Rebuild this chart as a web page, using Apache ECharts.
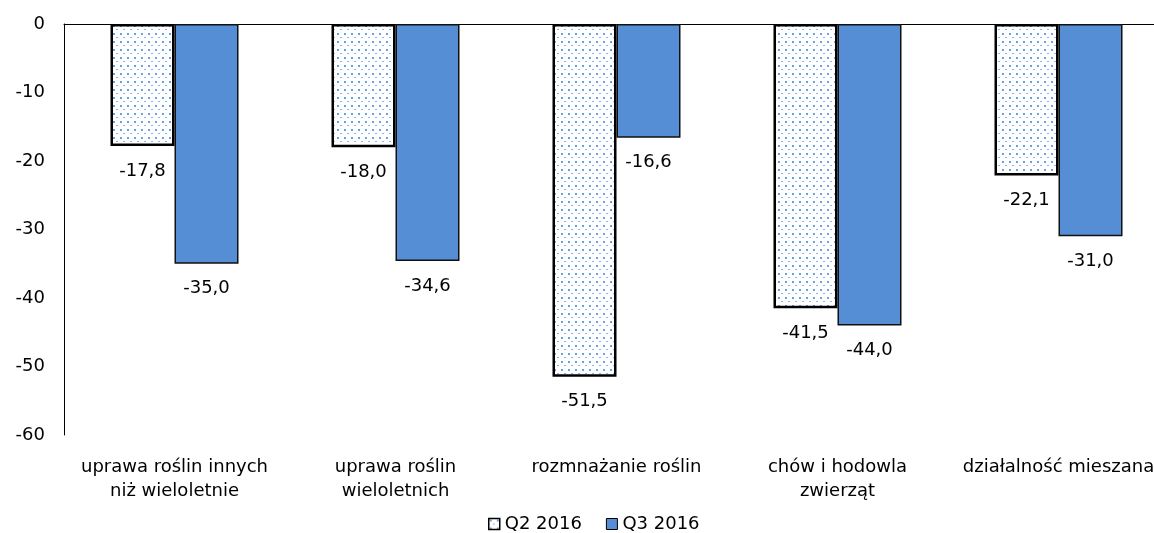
<!DOCTYPE html>
<html><head><meta charset="utf-8">
<script src="https://cdn.jsdelivr.net/npm/echarts@6/dist/echarts.min.js"></script>
<style>html,body{margin:0;padding:0;background:#fff;overflow:hidden}#c{width:1170px;height:533px}</style>
</head><body><div id="c"></div>
<script>
const categories = ["uprawa roślin innych\nniż wieloletnie", "uprawa roślin\nwieloletnich", "rozmnażanie roślin", "chów i hodowla\nzwierząt", "działalność mieszana"];
const seriesNames = ["Q2 2016", "Q3 2016"];
const q2 = [-17.8, -18.0, -51.5, -41.5, -22.1];
const q3 = [-35.0, -34.6, -16.6, -44.0, -31.0];
const yTicks = { min: -60, max: 0, interval: 10 };

const FONT = "DejaVu Sans";
const FS = 18;
const pc = document.createElement('canvas');
pc.width = 7; pc.height = 8;
const px = pc.getContext('2d');
px.fillStyle = '#ffffff'; px.fillRect(0,0,7,8);
px.fillStyle = '#6d9fe2';
px.fillRect(1,1,2,2);
px.fillStyle = '#8cb4ea';
px.fillRect(4,5,2,1);
const pattern = { image: pc, repeat: 'repeat' };

const fmt = p => p.value.toFixed(1).replace('.', ',');
const chart = echarts.init(document.getElementById('c'), null, { renderer: 'canvas' });
chart.setOption({
  animation: false,
  grid: { left: 64, top: 24, right: 1, height: 411, containLabel: false },
  legend: {
    left: 483, top: 510, itemWidth: 11, itemHeight: 11, itemGap: 24, itemTextGap: 3,
    textStyle: { fontFamily: FONT, fontSize: FS, color: '#000' },
    data: [
      { name: seriesNames[0], icon: 'rect', itemStyle: { color: pattern, borderColor: '#000', borderWidth: 1.5 } },
      { name: seriesNames[1], icon: 'rect', itemStyle: { color: '#558ed5', borderColor: '#000', borderWidth: 1 } }
    ]
  },
  xAxis: [
    { type: 'category', data: categories, position: 'bottom',
      axisLine: { show: false }, axisTick: { show: false },
      axisLabel: { margin: 20, fontFamily: FONT, fontSize: FS, color: '#000', lineHeight: 24, interval: 0 } },
    { type: 'category', data: categories, position: 'top',
      axisLine: { show: true, lineStyle: { color: '#000', width: 1 } }, axisTick: { show: false },
      axisLabel: { show: false } }
  ],
  yAxis: {
    type: 'value', min: yTicks.min, max: yTicks.max, interval: yTicks.interval,
    splitLine: { show: false },
    axisLine: { show: true, lineStyle: { color: '#000', width: 1 } },
    axisTick: { show: false },
    axisLabel: { margin: 19, fontFamily: FONT, fontSize: FS, color: '#000' }
  },
  series: [
    { name: seriesNames[0], type: 'bar', data: q2, barWidth: 64, barGap: '0%',
      itemStyle: { color: pattern, borderColor: '#000', borderWidth: 2.5 },
      label: { show: true, position: 'bottom', distance: 16, formatter: fmt, fontFamily: FONT, fontSize: FS, color: '#000' } },
    { name: seriesNames[1], type: 'bar', data: q3, barWidth: 64, barGap: '0%',
      itemStyle: { color: '#558ed5', borderColor: '#111', borderWidth: 1.5 },
      label: { show: true, position: 'bottom', distance: 16, formatter: fmt, fontFamily: FONT, fontSize: FS, color: '#000' } }
  ]
});
</script></body></html>
